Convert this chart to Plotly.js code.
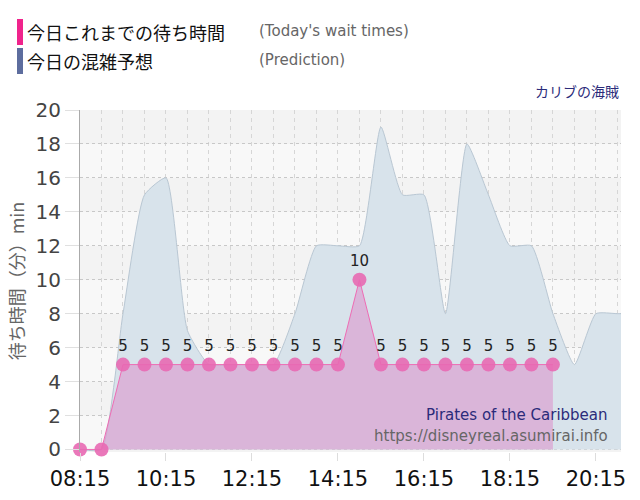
<!DOCTYPE html>
<html><head><meta charset="utf-8">
<script src="https://cdn.plot.ly/plotly-3.0.1.min.js"></script>
<style>html,body{margin:0;padding:0;background:#fff}#chart{width:640px;height:500px}</style>
</head><body><div id="chart"></div>
<script>
const day = '2024-01-01 ';
const actualTimes = ['08:15','08:45','09:15','09:45','10:15','10:45','11:15','11:45','12:15','12:45','13:15','13:45','14:15','14:45','15:15','15:45','16:15','16:45','17:15','17:45','18:15','18:45','19:15'];
const actualValues = [0,0,5,5,5,5,5,5,5,5,5,5,5,10,5,5,5,5,5,5,5,5,5];
const predTimes = ['08:15','08:45','09:15','09:45','10:15','10:45','11:15','11:45','12:15','12:45','13:15','13:45','14:15','14:45','15:15','15:45','16:15','16:45','17:15','17:45','18:15','18:45','19:15','19:45','20:15','20:45','21:15'];
const predValues = [0,0,8,15,16,7,5,5,5,5,8,12,12,12,19,15,15,8,18,15,12,12,8,5,8,8,8];
const tickLabels = ['08:15','10:15','12:15','14:15','16:15','18:15','20:15'];

const L=80, R=621, T=110, B=452;
const px = x => (x - L) / (R - L);
const py = y => (B - y) / (B - T);

const pred = {
  x: predTimes.map(t => day + t), y: predValues, type: 'scatter', mode: 'lines',
  line: {shape: 'spline', smoothing: 0.5, color: '#b9c7d3', width: 1},
  fill: 'tozeroy', fillcolor: '#d8e3eb', hoverinfo: 'skip'
};
const actual = {
  x: actualTimes.map(t => day + t), y: actualValues, type: 'scatter', mode: 'lines+markers+text',
  line: {color: '#ee6cb4', width: 1},
  marker: {size: 14, color: 'rgba(232,105,178,0.9)'},
  fill: 'tozeroy', fillcolor: 'rgba(220,150,205,0.6)',
  text: actualValues.map(v => v > 0 ? String(v) : ''), textposition: 'top center',
  textfont: {family: 'DejaVu Sans', size: 15, color: '#222'}, cliponaxis: false
};

const ann = (x, y, text, size, color, xanchor, family) => ({
  xref: 'paper', yref: 'paper', x: px(x), y: py(y), text, showarrow: false,
  xanchor: xanchor || 'left', yanchor: 'middle',
  font: {size, color, family: family || 'Noto Sans CJK JP'}
});

const bands = [[0,2],[4,6],[8,10],[12,14],[16,18]].map(b => ({
  type: 'rect', xref: 'paper', yref: 'y', x0: 0, x1: 1, y0: b[0], y1: b[1],
  fillcolor: '#f8f8f8', line: {width: 0}, layer: 'below'
}));

const layout = {
  width: 640, height: 500,
  margin: {l: L, r: 640 - R, t: T, b: 500 - B},
  paper_bgcolor: '#fff', plot_bgcolor: '#f3f3f3',
  showlegend: false,
  font: {family: 'DejaVu Sans'},
  xaxis: {
    type: 'date', range: [day + '08:15', day + '20:50'],
    tickvals: tickLabels.map(t => day + t), ticktext: tickLabels,
    tickfont: {size: 21, color: '#111', family: 'DejaVu Sans'},
    ticks: 'outside', ticklen: 8, tickcolor: '#ddd',
    showgrid: true, gridcolor: '#d6d6d6', griddash: '4px,4px', gridwidth: 1,
    minor: {dtick: 30 * 60 * 1000, tick0: day + '08:15', showgrid: true, gridcolor: '#d6d6d6', griddash: '4px,4px', ticks: ''},
    zeroline: false, showline: false, fixedrange: true
  },
  yaxis: {
    range: [-0.15, 20], dtick: 2, tick0: 0,
    tickfont: {size: 20, color: '#444', family: 'DejaVu Sans'},
    ticks: 'outside', ticklen: 14, tickcolor: '#e0e0e0',
    showgrid: true, gridcolor: '#c8c8c8', griddash: 'dot',
    zeroline: false, showline: true, linecolor: '#aaa', linewidth: 1,
    title: {text: '待ち時間（分）min', font: {size: 18, color: '#666', family: 'Noto Sans CJK JP'}, standoff: 6}
  },
  shapes: bands.concat([
    {type: 'rect', xref: 'paper', yref: 'paper', x0: px(17), x1: px(23), y0: py(45), y1: py(19), fillcolor: '#f0238c', line: {width: 0}},
    {type: 'rect', xref: 'paper', yref: 'paper', x0: px(17), x1: px(23), y0: py(74), y1: py(48), fillcolor: '#5d6d9e', line: {width: 0}}
  ]),
  annotations: [
    ann(25, 32, '今日これまでの待ち時間', 18, '#111'),
    ann(257, 31, "(Today's wait times)", 15, '#666', 'left', 'DejaVu Sans'),
    ann(25, 61, '今日の混雑予想', 18, '#111'),
    ann(257, 60, '(Prediction)', 15, '#666', 'left', 'DejaVu Sans'),
    ann(621, 91, 'カリブの海賊', 14, '#2b2b7a', 'right'),
    ann(610, 415, 'Pirates of the Caribbean', 15, '#2b2b7a', 'right', 'DejaVu Sans'),
    ann(610, 436, 'https://disneyreal.asumirai.info', 15, '#666', 'right', 'DejaVu Sans')
  ]
};
Plotly.newPlot('chart', [pred, actual], layout, {displayModeBar: false, staticPlot: true});
</script></body></html>
